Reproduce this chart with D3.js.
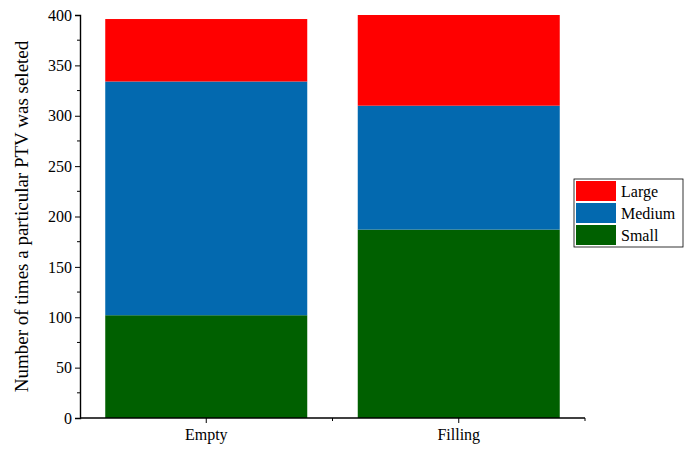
<!DOCTYPE html>
<html><head><meta charset="utf-8">
<script src="https://cdn.jsdelivr.net/npm/d3@7"></script>
<style>body{margin:0;background:#fff}svg{font-family:"Liberation Serif","Times New Roman",serif}</style>
</head><body><svg id="c" width="685" height="459"></svg>
<script>
const categories = ["Empty", "Filling"];
const seriesNames = ["Small", "Medium", "Large"];
const small = [102, 187];
const medium = [232, 123];
const large = [62, 90];
const colors = ["#006000", "#0369AF", "#FF0000"];
const yTicks = [0, 50, 100, 150, 200, 250, 300, 350, 400];

const svg = d3.select("#c");
const L = 80, R = 585, T = 15, B = 418;
const x = d3.scaleBand().domain(categories).range([L, R]).paddingInner(0.2).paddingOuter(0.1);
const y = d3.scaleLinear().domain([0, 400]).range([B, T]);
const rows = categories.map((c, i) => ({cat: c, Small: small[i], Medium: medium[i], Large: large[i]}));
const stack = d3.stack().keys(seriesNames)(rows);

stack.forEach((s, si) => {
  svg.append("g").selectAll("rect").data(s).join("rect")
    .attr("x", d => x(d.data.cat)).attr("width", x.bandwidth())
    .attr("y", d => y(d[1])).attr("height", d => y(d[0]) - y(d[1]))
    .attr("fill", colors[si]);
});

// y axis
const ya = svg.append("g").attr("transform", `translate(${L},0)`)
  .call(d3.axisLeft(y).tickValues(yTicks).tickSize(5).tickPadding(3));
ya.append("g").selectAll("line").data(d3.range(25, 400, 50)).join("line")
  .attr("x1", 0).attr("x2", -3).attr("y1", d => y(d)).attr("y2", d => y(d)).attr("stroke", "#000");
// x axis
const xa = svg.append("g").attr("transform", `translate(0,${B})`)
  .call(d3.axisBottom(x).tickSize(5).tickPadding(6).tickSizeOuter(0));
xa.select(".domain").attr("d", `M${L},0H${R}`);
xa.append("line").attr("x1", (x("Empty") + x.bandwidth() + x("Filling")) / 2)
  .attr("x2", (x("Empty") + x.bandwidth() + x("Filling")) / 2).attr("y1", 0).attr("y2", 3).attr("stroke", "#000");
xa.append("line").attr("x1", R).attr("x2", R).attr("y1", 0).attr("y2", 3).attr("stroke", "#000");
[ya, xa].forEach(a => {
  a.selectAll("text").attr("font-size", 16).attr("font-family", "Liberation Serif").attr("fill", "#000");
  a.select(".domain").attr("stroke-width", 1.4);
});

svg.append("text").attr("transform", `translate(28,${(T + B) / 2}) rotate(-90)`)
  .attr("text-anchor", "middle").attr("font-size", 19).text("Number of times a particular PTV was seleted");

// legend
const lg = svg.append("g").attr("transform", "translate(574,179)");
lg.append("rect").attr("width", 109).attr("height", 68).attr("fill", "#fff").attr("stroke", "#000").attr("stroke-width", 0.8);
const legItems = seriesNames.map((n, i) => ({n, c: colors[i]})).reverse();
legItems.forEach((d, i) => {
  lg.append("rect").attr("x", 2).attr("y", 2 + i * 22).attr("width", 40).attr("height", 20).attr("fill", d.c);
  lg.append("text").attr("x", 47).attr("y", 18 + i * 22).attr("font-size", 16).text(d.n);
});
</script></body></html>
